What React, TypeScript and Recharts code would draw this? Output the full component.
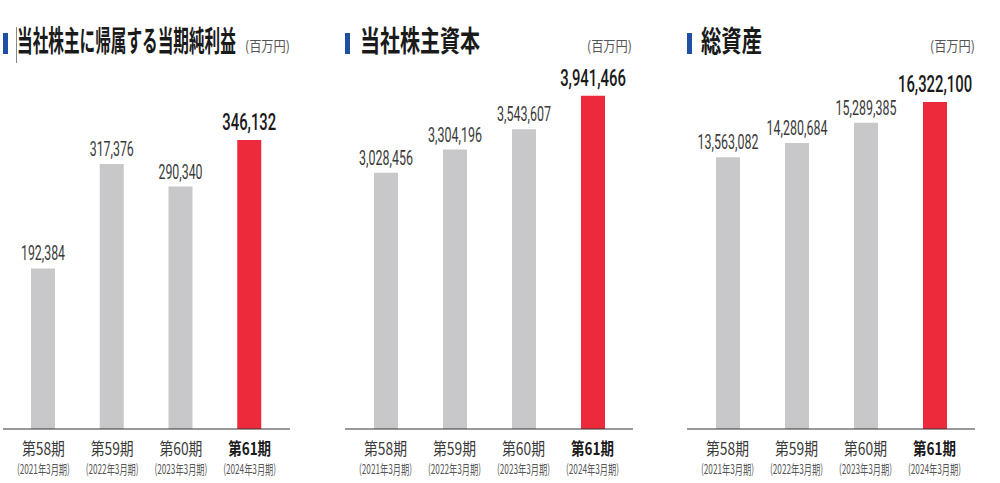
import React from "react";
import { BarChart, Bar, XAxis, YAxis, Cell, LabelList } from "recharts";

const periods = ["第58期", "第59期", "第60期", "第61期"];
const fiscalYears = ["(2021年3月期)", "(2022年3月期)", "(2023年3月期)", "(2024年3月期)"];

const netIncome = [192384, 317376, 290340, 346132];
const equity = [3028456, 3304196, 3543607, 3941466];
const totalAssets = [13563082, 14280684, 15289385, 16322100];

const titles = ["当社株主に帰属する当期純利益", "当社株主資本", "総資産"];
const unitLabel = "(百万円)";

const GRAY = "#c8c8ca";
const RED = "#ed293c";
const BLUE = "#1f4fa3";
const JP = "'Noto Sans CJK JP', 'Noto Sans', sans-serif";
const NUM = "Roboto, 'Noto Sans', sans-serif";

const W = 1000;
const H = 483;
const AXIS_Y = 429;
const PLOT_TOP = 60;

const fmt = (v: number) => v.toLocaleString("en-US");

// measure natural width so condensed text can be squeezed with a scale transform
let ctx: CanvasRenderingContext2D | null = null;
function measure(s: string, font: string) {
  if (!ctx) ctx = document.createElement("canvas").getContext("2d");
  if (!ctx) return s.length * 10;
  ctx.font = font;
  return ctx.measureText(s).width || 1;
}

interface SqProps {
  x: number;
  y: number;
  text: string;
  len: number;
  size: number;
  family: string;
  weight?: number;
  fill: string;
  anchor?: "start" | "middle" | "end";
}

function SqText({ x, y, text, len, size, family, weight = 400, fill, anchor = "start" }: SqProps) {
  const natural = measure(text, `${weight} ${size}px ${family}`);
  const sx = len / natural;
  return (
    <text
      transform={`translate(${x},${y}) scale(${sx},1)`}
      textAnchor={anchor}
      fontFamily={family}
      fontSize={size}
      fontWeight={weight}
      fill={fill}
    >
      {text}
    </text>
  );
}

function textLen(s: string, digit: number, comma: number) {
  let n = 0;
  for (const ch of s) n += ch === "," ? comma : digit;
  return n;
}

const makeLabel = (count: number) => (props: any) => {
  const x = Number(props.x);
  const y = Number(props.y);
  const w = Number(props.width);
  const last = props.index === count - 1;
  const s = fmt(Number(props.value));
  return (
    <SqText
      x={x + w / 2}
      y={y - (last ? 10 : 8)}
      text={s}
      anchor="middle"
      family={NUM}
      size={last ? 24 : 21}
      weight={last ? 500 : 400}
      fill={last ? "#1a1a1a" : "#3a3a3a"}
      len={last ? textLen(s, 8.4, 3.5) : textLen(s, 6.85, 3)}
    />
  );
};

const PeriodTick = (props: any) => {
  const { x, y, payload } = props;
  const i = periods.indexOf(payload.value);
  const last = i === periods.length - 1;
  return (
    <g>
      <SqText
        x={x}
        y={y + 26}
        text={payload.value}
        anchor="middle"
        family={JP}
        size={17}
        weight={last ? 700 : 400}
        fill={last ? "#1a1a1a" : "#3a3a3a"}
        len={43}
      />
      <SqText
        x={x}
        y={y + 45}
        text={fiscalYears[i]}
        anchor="middle"
        family={JP}
        size={13}
        fill="#555"
        len={53}
      />
    </g>
  );
};

interface PanelProps {
  values: number[];
  max: number;
  left: number;
  right: number;
  title: string;
  titleX: number;
  titleLen: number;
  unitX: number;
}

function Panel({ values, max, left, right, title, titleX, titleLen, unitX }: PanelProps) {
  const data = periods.map((p, i) => ({ period: p, value: values[i] }));
  return (
    <>
      <div style={{ position: "absolute", left: 0, top: 0 }}>
        <BarChart
          width={W}
          height={H}
          data={data}
          margin={{ top: PLOT_TOP, right: W - right, bottom: 0, left }}
        >
          <YAxis hide domain={[0, max]} />
          <XAxis
            dataKey="period"
            interval={0}
            height={H - AXIS_Y}
            tickSize={0}
            tickMargin={0}
            tickLine={false}
            axisLine={{ stroke: "#333", strokeWidth: 1 }}
            padding={{ left: 6, right: 6 }}
            tick={<PeriodTick />}
          />
          <Bar dataKey="value" barSize={24} isAnimationActive={false}>
            {data.map((d, i) => (
              <Cell key={d.period} fill={i === data.length - 1 ? RED : GRAY} />
            ))}
            <LabelList dataKey="value" content={makeLabel(data.length)} />
          </Bar>
        </BarChart>
      </div>
      <svg
        width={W}
        height={80}
        style={{ position: "absolute", left: 0, top: 0, pointerEvents: "none" }}
      >
        <rect x={left} y={33} width={5} height={21} fill={BLUE} />
        <SqText
          x={titleX}
          y={52}
          text={title}
          family={JP}
          size={29}
          weight={600}
          fill="#1a1a1a"
          len={titleLen}
        />
        <SqText x={unitX} y={51} text={unitLabel} family={JP} size={14} fill="#555" len={45} />
      </svg>
    </>
  );
}

export default function App() {
  return (
    <div
      style={{
        position: "absolute",
        left: 0,
        top: 0,
        width: W,
        height: H,
        background: "#fff",
        overflow: "hidden",
      }}
    >
      <Panel values={netIncome} max={442000} left={3} right={290}
        title={titles[0]} titleX={17} titleLen={219} unitX={245} />
      <Panel values={equity} max={4363000} left={345} right={633}
        title={titles[1]} titleX={360} titleLen={120} unitX={587} />
      <Panel values={totalAssets} max={18422000} left={687} right={975}
        title={titles[2]} titleX={701} titleLen={61} unitX={930} />
      {/* thin vertical cursor-like mark next to first title */}
      <svg width={W} height={80} style={{ position: "absolute", left: 0, top: 0 }}>
        <line x1={16.5} y1={27} x2={16.5} y2={63} stroke="#888" strokeWidth={1} />
      </svg>
    </div>
  );
}
